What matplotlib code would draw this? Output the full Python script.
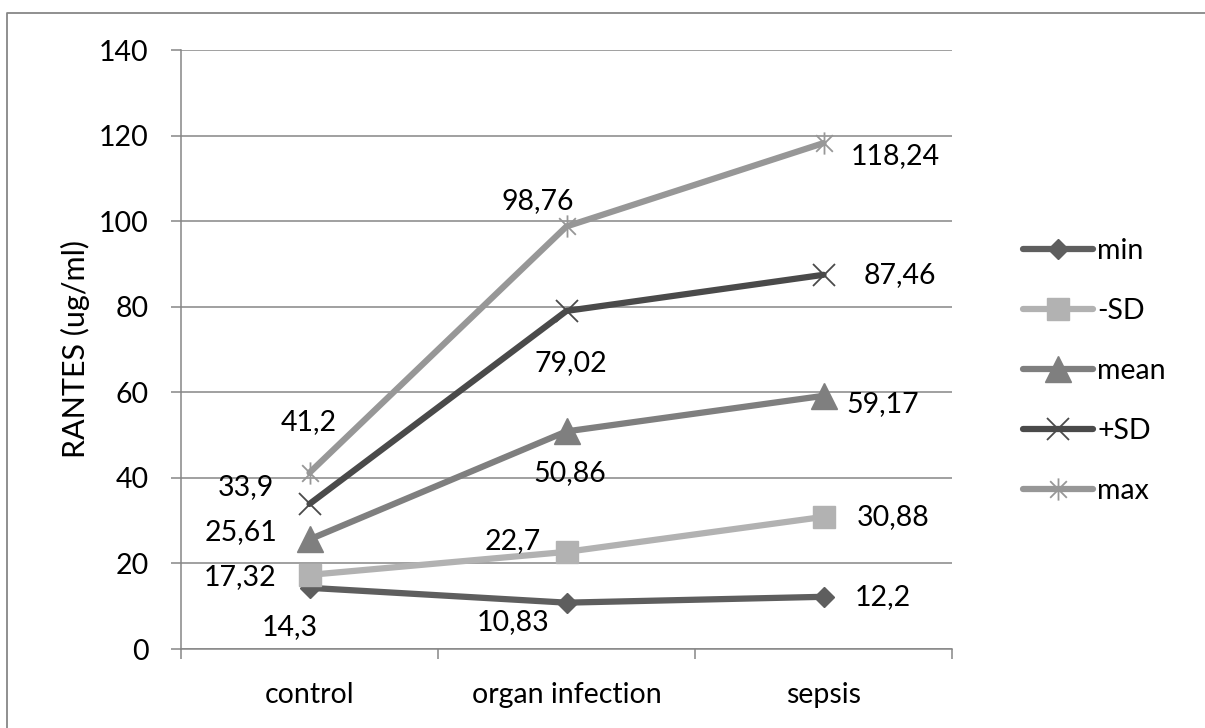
import numpy as np
import matplotlib
matplotlib.use("Agg")
import matplotlib.pyplot as plt
from matplotlib.lines import Line2D
from matplotlib.path import Path

# data
groups = ["control", "organ infection", "sepsis"]
series_names = ["min", "-SD", "mean", "+SD", "max"]
min_vals = [14.3, 10.83, 12.2]
minus_sd_vals = [17.32, 22.7, 30.88]
mean_vals = [25.61, 50.86, 59.17]
plus_sd_vals = [33.9, 79.02, 87.46]
max_vals = [41.2, 98.76, 118.24]
y_ticks = [0, 20, 40, 60, 80, 100, 120, 140]

plt.rcParams['font.family'] = ['Lato', 'DejaVu Sans']
FS = 20.5
GRID = '#868686'

# Excel style star: X with a vertical bar
star = Path([(0, -1), (0, 1), (-0.75, -0.75), (0.75, 0.75), (-0.75, 0.75), (0.75, -0.75)],
            [Path.MOVETO, Path.LINETO, Path.MOVETO, Path.LINETO, Path.MOVETO, Path.LINETO])

styles = {
    "min":  dict(color='#5e5e5e', marker='D', ms=10.5),
    "-SD":  dict(color='#b2b2b2', marker='s', ms=15.5),
    "mean": dict(color='#7f7f7f', marker='^', ms=19),
    "+SD":  dict(color='#4a4a4a', marker='x', ms=16, mew=1.3),
    "max":  dict(color='#979797', marker=star, ms=16, mew=1.3),
}

# label offsets in pixels (dx, dy) per group
offsets = {
    "min":  [(-20, -39), (-53, -19), (59, 0)],
    "-SD":  [(-69, -2), (-54, 11), (70, 0)],
    "mean": [(-69, 7), (3, -42), (59, -8)],
    "+SD":  [(-64, 17), (4, -52), (76, 0)],
    "max":  [(-1, 51), (-29, 25), (72, -13)],
}

values = [min_vals, minus_sd_vals, mean_vals, plus_sd_vals, max_vals]

fig = plt.figure(figsize=(12.05, 7.28), dpi=100)
ax = fig.add_axes([181 / 1205, 1 - 649 / 728, 771 / 1205, 599 / 728])

x = np.arange(len(groups))
for name, vals in zip(series_names, values):
    st = styles[name]
    ax.plot(x, vals, color=st['color'], lw=4.5, solid_capstyle='round',
            marker=st['marker'], ms=st['ms'], mew=st.get('mew', 1),
            mfc=st['color'], mec=st['color'], label=name, zorder=3)
    for xi, v, (dx, dy) in zip(x, vals, offsets[name]):
        ax.annotate(f"{v:g}".replace('.', ','), (xi, v), xytext=(dx, dy),
                    textcoords='offset pixels', ha='center', va='center',
                    fontsize=FS, color='black', zorder=4)

ax.set_xlim(-0.5, 2.5)
ax.set_ylim(0, 140)
ax.set_yticks(y_ticks)
ax.set_xticks(x)
ax.set_xticklabels(groups)
ax.set_xticks([-0.5, 0.5, 1.5, 2.5], minor=True)
ax.grid(axis='y', color=GRID, lw=1.1, zorder=0)
ax.set_axisbelow(True)

for s in ['top', 'right']:
    ax.spines[s].set_visible(False)
for s in ['left', 'bottom']:
    ax.spines[s].set_color(GRID)
    ax.spines[s].set_linewidth(1.1)

ax.tick_params(axis='y', length=7.2, width=1.1, color=GRID, pad=16, labelsize=FS)
ax.tick_params(axis='x', which='major', length=0, pad=24, labelsize=FS)
ax.tick_params(axis='x', which='minor', length=7.2, width=1.1, color=GRID)

fig.text(75 / 1205, 1 - 349 / 728, "RANTES (ug/ml)", rotation=90,
         ha='center', va='center', fontsize=22)

ax.legend(loc='center left', bbox_to_anchor=(1023 / 1205, 1 - 371 / 728),
          bbox_transform=fig.transFigure, frameon=False, fontsize=FS,
          handlelength=2.45, handletextpad=0.15, labelspacing=1.2,
          borderpad=0, borderaxespad=0)

# outer chart frame (only top and left edges are in view)
fig.add_artist(Line2D([7 / 1205, 7 / 1205, 1.01], [-0.01, 1 - 13 / 728, 1 - 13 / 728],
                      color='#878787', lw=1.3, transform=fig.transFigure))

fig.savefig("out.png", dpi=100)
